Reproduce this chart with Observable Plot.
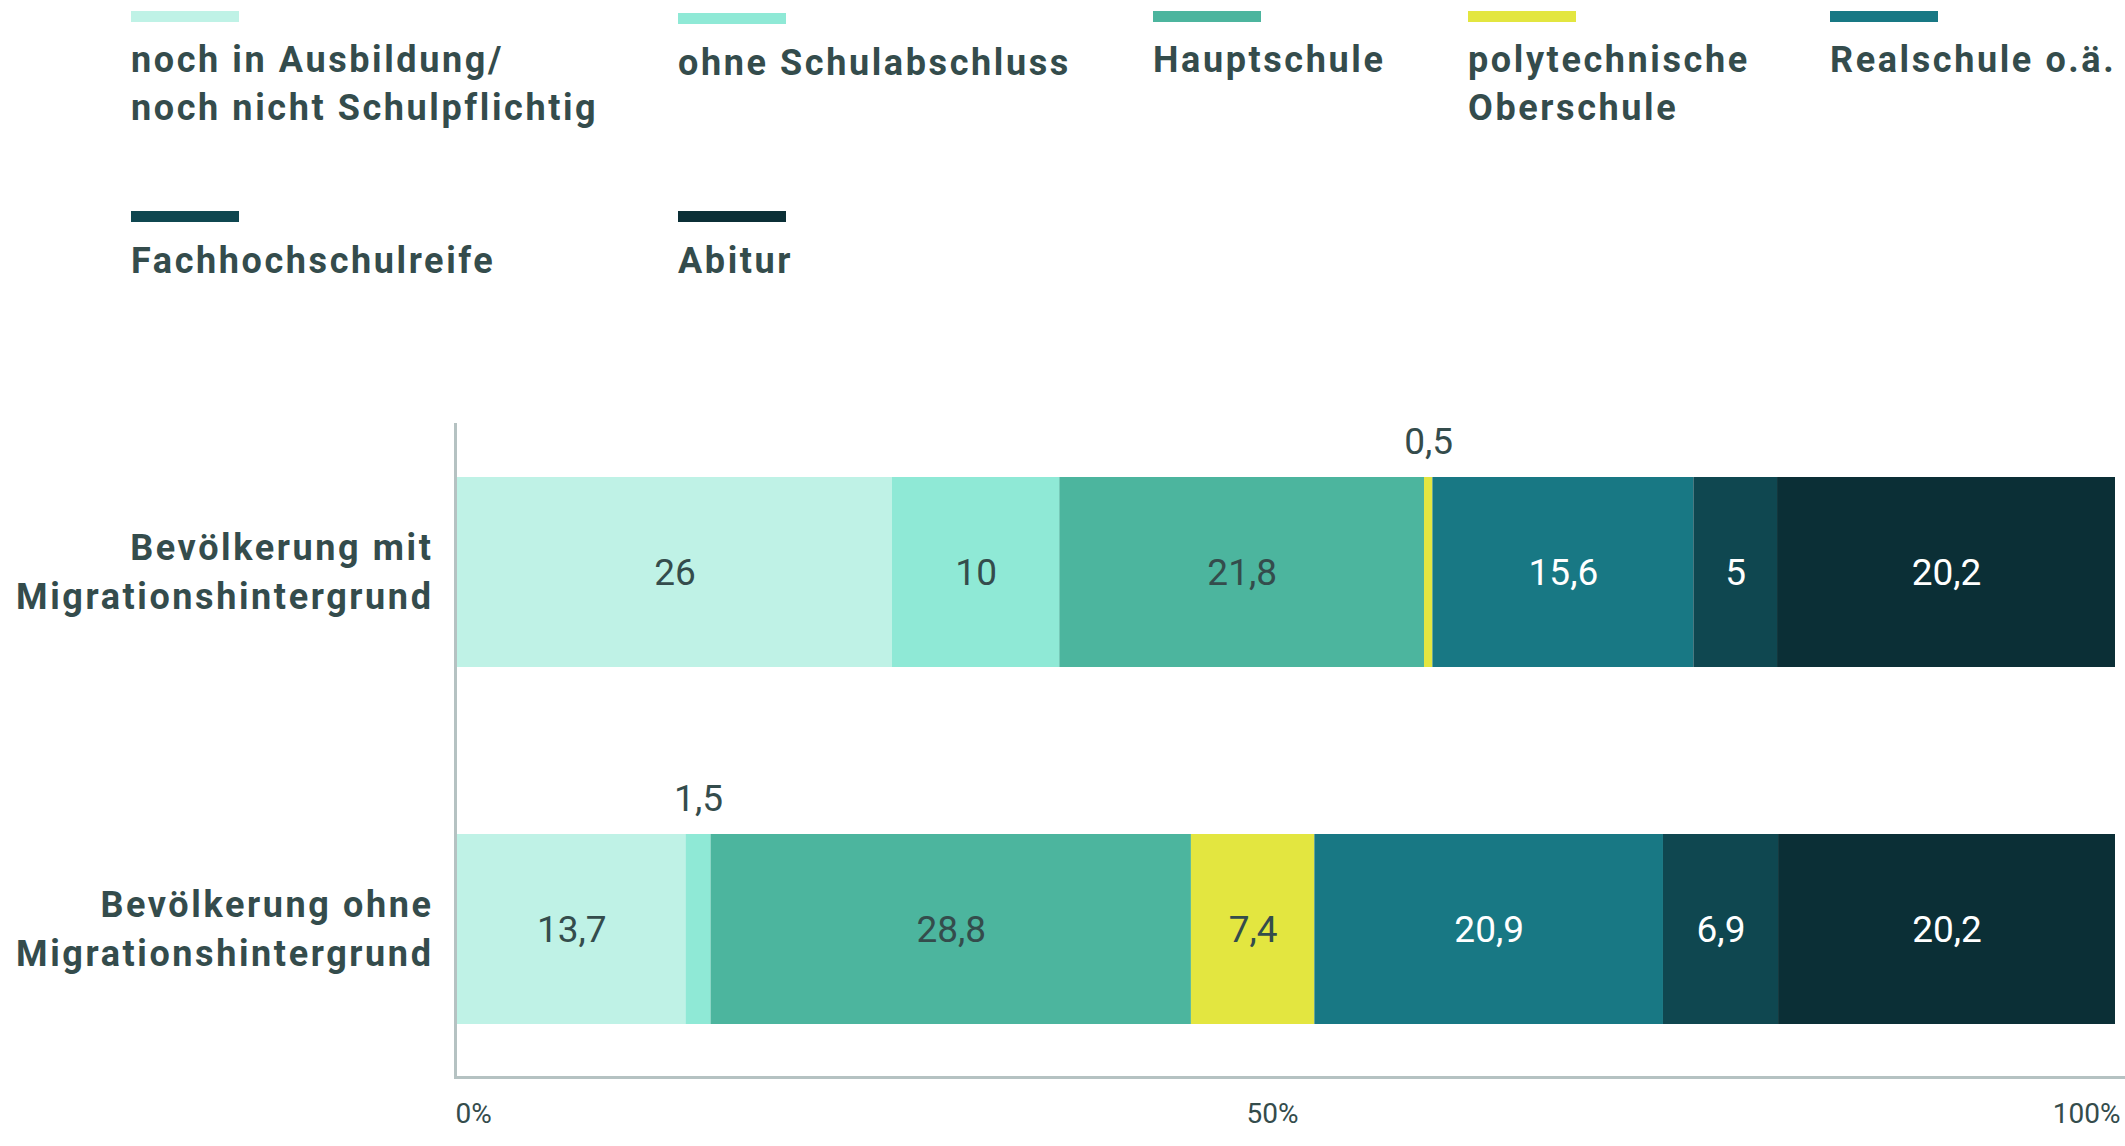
<!DOCTYPE html>
<html>
<head>
<meta charset="utf-8">
<script src="https://cdn.jsdelivr.net/npm/d3@7"></script>
<script src="https://cdn.jsdelivr.net/npm/@observablehq/plot@0.6"></script>
<style>
  html, body { margin: 0; padding: 0; background: #fff; }
  #wrap { position: relative; width: 2125px; height: 1146px; font-family: Roboto, sans-serif; color: #344c4c; }
  .item { position: absolute; }
  .sw { position: absolute; left: 0; width: 108px; height: 11px; }
  .lab { position: absolute; left: 0; white-space: pre; font-weight: 700; font-size: 36px; line-height: 48px; letter-spacing: 2.6px; }
  #chart { position: absolute; left: 0; top: 400px; }
  g[aria-description="cats"] text { letter-spacing: 2.6px; }
</style>
</head>
<body>
<div id="wrap">
  <div id="legend"></div>
  <div id="chart"></div>
</div>
<script>
// ---- data ----
const categories = ["noch in Ausbildung/ noch nicht Schulpflichtig", "ohne Schulabschluss", "Hauptschule", "polytechnische Oberschule", "Realschule o.ä.", "Fachhochschulreife", "Abitur"];
const legendLabels = ["noch in Ausbildung/\nnoch nicht Schulpflichtig", "ohne Schulabschluss", "Hauptschule", "polytechnische\nOberschule", "Realschule o.ä.", "Fachhochschulreife", "Abitur"];
const colors = ["#bff2e6", "#8fe9d6", "#4cb59e", "#e3e640", "#187884", "#0f4750", "#0b2f36"];
const groups = ["Bevölkerung mit\nMigrationshintergrund", "Bevölkerung ohne\nMigrationshintergrund"];
const valuesMit = [26, 10, 21.8, 0.5, 15.6, 5, 20.2];
const valuesOhne = [13.7, 1.5, 28.8, 7.4, 20.9, 6.9, 20.2];
const ticks = [0, 0.5, 1];
const tickLabels = ["0%", "50%", "100%"];
const darkCats = new Set(["Realschule o.ä.", "Fachhochschulreife", "Abitur"]);

const data = [];
[valuesMit, valuesOhne].forEach((vals, gi) => {
  vals.forEach((v, ci) => data.push({group: groups[gi], category: categories[ci], value: v}));
});
const fmt = v => String(v).replace(".", ",");
const textColor = "#344c4c";

// ---- legend (HTML) ----
const legendPos = [
  {x: 131, y: 11, ty: 36}, {x: 678, y: 13, ty: 39}, {x: 1153, y: 11, ty: 36}, {x: 1468, y: 11, ty: 36}, {x: 1830, y: 11, ty: 36},
  {x: 131, y: 211, ty: 237}, {x: 678, y: 211, ty: 237}
];
const legend = document.getElementById("legend");
categories.forEach((c, i) => {
  const p = legendPos[i];
  const item = document.createElement("div");
  item.className = "item";
  item.style.left = p.x + "px";
  item.style.top = "0px";
  const sw = document.createElement("div");
  sw.className = "sw";
  sw.style.top = p.y + "px";
  sw.style.background = colors[i];
  const lab = document.createElement("div");
  lab.className = "lab";
  lab.style.top = p.ty + "px";
  lab.textContent = legendLabels[i];
  item.appendChild(sw);
  item.appendChild(lab);
  legend.appendChild(item);
});

// ---- chart ----
const stackOpts = {x: "value", y: "group", z: "category", offset: "normalize"};
const plot = Plot.plot({
  width: 2125,
  height: 746,
  marginLeft: 455,
  marginRight: 0,
  marginTop: 24,
  marginBottom: 69,
  style: {fontFamily: "Roboto, sans-serif", background: "#fff"},
  x: {domain: [0, 1], range: [457, 2115], axis: null},
  y: {domain: groups, paddingInner: 0.4665, paddingOuter: 0.1453, axis: null},
  color: {domain: categories, range: colors},
  marks: [
    Plot.barX(data, Plot.stackX({...stackOpts, fill: "category"})),
    Plot.text(data, Plot.stackX({...stackOpts, text: d => (d.value >= 2 && !darkCats.has(d.category)) ? fmt(d.value) : "", fill: textColor, fontSize: 37, dy: 1})),
    Plot.text(data, Plot.stackX({...stackOpts, text: d => (d.value >= 2 && darkCats.has(d.category)) ? fmt(d.value) : "", fill: "#ffffff", fontSize: 37, dy: 1})),
    Plot.text(data, Plot.stackX({...stackOpts, text: d => d.value < 2 ? fmt(d.value) : "", fill: textColor, fontSize: 37, dy: -130})),
    Plot.frame({anchor: "left", stroke: "#b5c2c2", strokeWidth: 3, strokeOpacity: 1}),
    Plot.frame({anchor: "bottom", stroke: "#b5c2c2", strokeWidth: 3, strokeOpacity: 1}),
    Plot.text(groups, {y: d => d, text: d => d, frameAnchor: "left", textAnchor: "end", dx: -22, dy: -4, fontSize: 36, fontWeight: 700, fill: textColor, lineHeight: 1.36, ariaDescription: "cats"}),
    Plot.text([ticks[0]], {x: d => d, text: d => tickLabels[ticks.indexOf(d)], frameAnchor: "bottom", dy: 45, textAnchor: "start", dx: -2, fontSize: 28, fill: textColor}),
    Plot.text([ticks[1]], {x: d => d, text: d => tickLabels[ticks.indexOf(d)], frameAnchor: "bottom", dy: 45, textAnchor: "middle", dx: -14, fontSize: 28, fill: textColor}),
    Plot.text([ticks[2]], {x: d => d, text: d => tickLabels[ticks.indexOf(d)], frameAnchor: "bottom", dy: 45, textAnchor: "end", dx: 5, fontSize: 28, fill: textColor})
  ]
});
document.getElementById("chart").appendChild(plot);
</script>
</body>
</html>
